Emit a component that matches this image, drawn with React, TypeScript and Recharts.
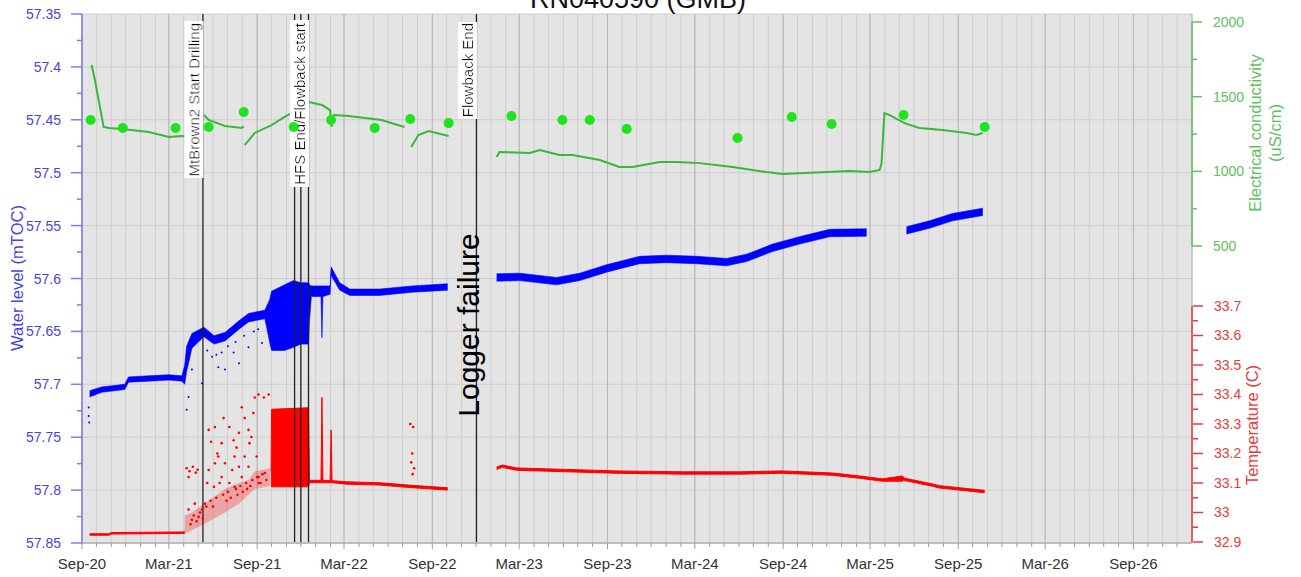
import React from 'react';
import {
  ComposedChart,
  XAxis,
  YAxis,
  CartesianGrid,
  Area,
  Line,
  Scatter,
  ReferenceLine,
} from 'recharts';

// ---------- helpers ----------
const ts = (s: string) => Date.parse(s + 'T00:00:00Z');
const MON = ['Jan', 'Feb', 'Mar', 'Apr', 'May', 'Jun', 'Jul', 'Aug', 'Sep', 'Oct', 'Nov', 'Dec'];

// ---------- axes ----------
const X_START = '2020-09-01';
const X_END = '2027-01-01';
const wlTicks = [57.35, 57.375, 57.4, 57.425, 57.45, 57.475, 57.5, 57.525, 57.55, 57.575, 57.6, 57.625, 57.65, 57.675, 57.7, 57.725, 57.75, 57.775, 57.8, 57.825, 57.85];
const wlMajorTicks = [57.35, 57.4, 57.45, 57.5, 57.55, 57.6, 57.65, 57.7, 57.75, 57.8, 57.85];
const ecTicks = [500, 750, 1000, 1250, 1500, 1750, 2000];
const ecMajor = [500, 1000, 1500, 2000];
const tempTicks = [32.9, 32.95, 33, 33.05, 33.1, 33.15, 33.2, 33.25, 33.3, 33.35, 33.4, 33.45, 33.5, 33.55, 33.6, 33.65, 33.7];
const tempMajor = [32.9, 33, 33.1, 33.2, 33.3, 33.4, 33.5, 33.6, 33.7];
const EC_DOMAIN: [number, number] = [-1488.8, 2053.6];
const TEMP_DOMAIN: [number, number] = [32.8966, 34.6898];

const monthTicks: number[] = [];
for (let y = 2020, m = 8; y < 2027; ) {
  monthTicks.push(Date.UTC(y, m, 1));
  m++;
  if (m === 12) { m = 0; y++; }
}
const majorMonthTicks = monthTicks.filter((t) => {
  const m = new Date(t).getUTCMonth();
  return m === 2 || m === 8;
});

// ---------- water level (mTOC) band ----------
const wlDates = [
  '2020-09-17', '2020-10-12', '2020-11-29', '2020-12-07', '2021-01-18', '2021-03-01', '2021-03-28', '2021-04-03',
  '2021-04-07', '2021-04-18', '2021-05-13', '2021-06-03', '2021-06-26', '2021-07-25', '2021-08-14', '2021-09-17',
  '2021-09-27', '2021-10-01', '2021-10-28', '2021-11-16', '2021-12-01', '2021-12-17', '2021-12-19', '2021-12-23',
  '2022-01-12', '2022-01-14', '2022-01-16', '2022-01-31', '2022-02-02', '2022-02-20', '2022-03-13', '2022-05-14',
  '2022-07-21', '2022-10-03',
  '2022-10-04',
  '2023-01-13', '2023-03-02', '2023-05-18', '2023-07-05', '2023-08-30', '2023-11-07', '2024-01-02', '2024-03-05',
  '2024-05-06', '2024-06-17', '2024-08-10', '2024-10-05', '2024-12-07', '2025-02-22',
  '2025-03-01',
  '2025-05-16', '2025-07-03', '2025-08-20', '2025-10-22',
];
const wlLow: (number | null)[] = [
  57.706, 57.7025, 57.700, 57.693, 57.692, 57.691, 57.692, 57.682,
  57.664, 57.652, 57.646, 57.654, 57.651, 57.640, 57.633, 57.630,
  57.620, 57.612, 57.606, 57.602, 57.604, 57.604, 57.606, 57.607,
  57.607, 57.607, 57.607, 57.607, 57.589, 57.604, 57.610, 57.610,
  57.607, 57.605,
  null,
  57.5955, 57.595, 57.599, 57.595, 57.587, 57.579, 57.578, 57.579,
  57.581, 57.577, 57.5675, 57.5605, 57.5535, 57.553,
  null,
  57.551, 57.5455, 57.5385, 57.5335,
];
const wlHigh: (number | null)[] = [
  57.712, 57.7075, 57.705, 57.698, 57.697, 57.696, 57.697, 57.700,
  57.688, 57.666, 57.655, 57.662, 57.659, 57.648, 57.641, 57.638,
  57.660, 57.668, 57.668, 57.665, 57.662, 57.662, 57.640, 57.617,
  57.617, 57.656, 57.617, 57.615, 57.597, 57.611, 57.616, 57.616,
  57.613, 57.611,
  null,
  57.6025, 57.602, 57.606, 57.602, 57.594, 57.586, 57.585, 57.586,
  57.588, 57.584, 57.5745, 57.5675, 57.5605, 57.560,
  null,
  57.558, 57.5525, 57.5455, 57.5405,
];
const wlDotDates = ['2021-04-11', '2021-04-18', '2021-05-30', '2021-06-12', '2021-06-26', '2021-07-14', '2021-07-25', '2021-08-14', '2021-09-11', '2021-05-09', '2021-04-11', '2021-04-07', '2021-06-19', '2020-09-15', '2020-09-15', '2020-09-16', '2021-05-20', '2021-06-08', '2021-07-02', '2021-07-18', '2021-08-05', '2021-08-25', '2021-09-03'];
const wlDotValues = [57.677, 57.686, 57.674, 57.684, 57.686, 57.670, 57.680, 57.665, 57.661, 57.699, 57.712, 57.724, 57.670, 57.722, 57.730, 57.736, 57.668, 57.672, 57.664, 57.660, 57.654, 57.650, 57.648];

// ---------- temperature (C) ----------
const tempDates = [
  '2020-09-17', '2020-10-27', '2020-11-01', '2021-03-28', '2021-04-03',
  '2021-04-04',
  '2021-09-30', '2021-10-01', '2021-12-17', '2021-12-19', '2022-01-12', '2022-01-14', '2022-01-16', '2022-01-31',
  '2022-02-02', '2022-02-04', '2022-03-07', '2022-05-14', '2022-07-21', '2022-10-03',
  '2022-10-04',
  '2023-01-13', '2023-01-25', '2023-02-24', '2023-09-20', '2024-02-05', '2024-06-02', '2024-08-31', '2024-12-13',
  '2025-02-07', '2025-03-27', '2025-05-08', '2025-05-10', '2025-07-09', '2025-07-24', '2025-10-26',
];
const tempLow: (number | null)[] = [
  32.923, 32.923, 32.927, 32.929, 32.929,
  null,
  33.09, 33.087, 33.087, 33.101, 33.101, 33.101, 33.101, 33.101,
  33.101, 33.101, 33.096, 33.093, 33.084, 33.076,
  null,
  33.146, 33.153, 33.143, 33.133, 33.130, 33.130, 33.133, 33.126,
  33.116, 33.106, 33.106, 33.109, 33.089, 33.083, 33.067,
];
const tempHigh: (number | null)[] = [
  32.928, 32.928, 32.932, 32.934, 32.935,
  null,
  33.14, 33.35, 33.355, 33.109, 33.109, 33.39, 33.109, 33.108,
  33.28, 33.108, 33.104, 33.101, 33.092, 33.084,
  null,
  33.154, 33.161, 33.151, 33.141, 33.138, 33.138, 33.141, 33.134,
  33.124, 33.114, 33.124, 33.117, 33.097, 33.091, 33.075,
];
const tempScatDates = ['2021-04-03', '2021-04-18', '2021-05-13', '2021-06-26', '2021-07-25', '2021-08-14', '2021-08-27', '2021-09-29'];
const tempScatLow = [32.93, 32.94, 32.96, 33.0, 33.03, 33.06, 33.08, 33.09];
const tempScatHigh = [32.99, 33.0, 33.03, 33.08, 33.10, 33.11, 33.14, 33.15];
const tempDotDates = [
  '2021-04-07', '2021-04-13', '2021-04-20', '2021-04-26', '2021-04-30', '2021-04-11',
  '2021-05-23', '2021-06-05', '2021-06-19', '2021-07-05', '2021-07-16', '2021-07-31', '2021-08-06', '2021-08-14',
  '2021-08-20', '2021-08-24', '2021-08-27', '2021-09-04', '2021-09-15', '2021-09-25',
  '2021-05-23', '2021-06-05', '2021-06-19', '2021-06-26', '2021-07-11', '2021-07-25', '2021-08-06', '2021-08-14',
  '2021-04-24', '2021-05-09', '2021-06-03', '2021-06-15', '2021-07-05', '2021-07-16', '2021-07-31', '2021-09-04',
  '2021-09-17', '2021-09-04', '2021-04-11', '2021-04-18', '2021-05-02', '2021-05-15', '2021-06-12', '2021-07-14',
  '2021-07-25', '2021-08-16', '2021-08-31',
  '2021-04-15', '2021-04-22', '2021-04-28', '2021-05-05', '2021-05-11', '2021-05-18', '2021-05-27', '2021-06-01',
  '2021-06-08', '2021-06-22', '2021-06-29', '2021-07-02', '2021-07-08', '2021-07-19', '2021-07-22', '2021-07-28',
  '2021-08-02', '2021-08-09', '2021-08-11', '2021-08-18', '2021-08-22', '2021-09-01', '2021-09-08', '2021-09-12',
  '2021-09-20', '2021-05-20', '2021-06-10', '2021-07-20', '2021-05-28', '2021-06-23',
  '2022-07-17', '2022-07-23', '2022-07-21', '2022-07-19', '2022-07-25', '2022-07-22',
];
const tempDotValues = [
  33.15, 33.14, 33.155, 33.135, 33.145, 33.12,
  33.28, 33.29, 33.235, 33.29, 33.19, 33.357, 33.32, 33.28,
  33.256, 33.337, 33.39, 33.40, 33.39, 33.40,
  33.144, 33.167, 33.12, 33.167, 33.144, 33.155, 33.19, 33.155,
  33.03, 33.01, 33.087, 33.10, 33.10, 33.087, 33.12, 33.10,
  33.134, 33.12, 33.01, 32.975, 32.985, 33.03, 33.19, 33.245,
  33.27, 33.235, 33.19,
  32.96, 32.99, 32.97, 33.0, 32.98, 33.02, 33.04, 33.02,
  33.05, 33.06, 33.04, 33.07, 33.05, 33.08, 33.06, 33.09,
  33.07, 33.1, 33.08, 33.09, 33.11, 33.12, 33.1, 33.13,
  33.11, 33.1, 33.2, 33.22, 33.24, 33.32,
  33.30, 33.29, 33.2, 33.17, 33.15, 33.13,
];

// ---------- electrical conductivity (uS/cm) ----------
const ecDates = [
  '2020-09-21', '2020-09-28', '2020-10-16', '2020-10-27', '2020-11-23', '2021-01-18', '2021-03-01', '2021-03-28', '2021-04-03', '2021-04-04',
  '2021-05-13', '2021-05-23', '2021-06-26', '2021-07-31', '2021-08-04', '2021-08-05',
  '2021-08-06', '2021-08-27', '2021-10-01', '2021-10-28', '2021-11-12', '2021-11-16', '2021-11-17',
  '2021-12-17', '2022-01-14', '2022-01-31', '2022-02-03', '2022-02-08', '2022-03-11', '2022-05-18', '2022-07-05', '2022-07-06',
  '2022-07-19', '2022-08-03', '2022-08-24', '2022-10-05', '2022-10-06',
  '2023-01-13', '2023-01-19', '2023-03-23', '2023-04-13', '2023-05-24', '2023-06-20', '2023-08-16', '2023-09-26',
  '2023-10-23', '2023-12-19', '2024-01-23', '2024-03-11', '2024-05-19', '2024-07-28', '2024-08-31', '2024-10-05',
  '2025-01-18', '2025-02-28', '2025-03-21', '2025-03-25', '2025-03-31', '2025-04-11', '2025-05-12', '2025-06-12',
  '2025-07-30', '2025-09-18', '2025-10-09', '2025-10-22',
];
const ecValues: (number | null)[] = [
  1712, 1612, 1297, 1290, 1283, 1263, 1230, 1237, 1235, null,
  1377, 1344, 1304, 1290, 1300, null,
  1176, 1257, 1310, 1364, 1390, 1395, null,
  1464, 1444, 1410, 1300, 1377, 1370, 1344, 1297, null,
  1163, 1243, 1270, 1237, null,
  1096, 1130, 1123, 1143, 1110, 1110, 1076, 1029,
  1029, 1062, 1062, 1055, 1029, 995, 982, 988,
  1002, 995, 1009, 1050, 1390, 1377, 1323, 1290,
  1277, 1257, 1243, 1257,
];
const ecSampleDates = ['2020-09-19', '2020-11-25', '2021-03-15', '2021-05-23', '2021-08-04', '2021-11-16', '2022-02-02', '2022-05-04', '2022-07-17', '2022-10-05', '2023-02-13', '2023-05-30', '2023-07-26', '2023-10-11', '2024-05-29', '2024-09-19', '2024-12-11', '2025-05-10', '2025-10-26'];
const ecSampleValues = [1344, 1290, 1290, 1297, 1397, 1297, 1344, 1290, 1350, 1323, 1370, 1344, 1344, 1283, 1223, 1364, 1317, 1377, 1297];

// ---------- events ----------
const eventDates = ['2021-05-11', '2021-11-18', '2021-12-01', '2021-12-17', '2022-12-02'];
const eventLabels = ['MtBrown2 Start Drilling', '', '', 'HFS End/Flowback start', 'Flowback End'];
const gapLabel = 'Logger failure';

// ---------- built series ----------
const wlData = wlDates.map((d, i) => ({ t: ts(d), r: wlLow[i] == null ? null : [wlLow[i], wlHigh[i]] }));
const wlDots = wlDotDates.map((d, i) => ({ t: ts(d), v: wlDotValues[i] }));
const tempData = tempDates.map((d, i) => ({ t: ts(d), r: tempLow[i] == null ? null : [tempLow[i], tempHigh[i]] }));
const tempScat = tempScatDates.map((d, i) => ({ t: ts(d), r: [tempScatLow[i], tempScatHigh[i]] }));
const tempDots = tempDotDates.map((d, i) => ({ t: ts(d), v: tempDotValues[i] }));
const ecData = ecDates.map((d, i) => ({ t: ts(d), v: ecValues[i] }));
const ecSamples = ecSampleDates.map((d, i) => ({ t: ts(d), v: ecSampleValues[i] }));

// ---------- colours ----------
const BLUE = '#0000ff';
const BLUE_AX = '#4646dc';
const GREEN_LINE = '#3ab63a';
const GREEN_DOT = '#1ee41e';
const GREEN_AX = '#62c062';
const RED = '#ff0000';
const RED_AX = '#e63c3c';

const W = 1301;
const H = 577;
const FONT = '"Liberation Sans", Arial, sans-serif';

function XTick(p: any) {
  const { x, y, payload } = p;
  const d = new Date(payload.value);
  const m = d.getUTCMonth();
  const major = m === 2 || m === 8;
  return (
    <g>
      <line x1={x} x2={x} y1={y} y2={y + (major ? 6 : 4)} stroke="#9a9a9a" />
      {major && (
        <text x={x} y={y + 26} textAnchor="middle" fontSize={15} fill="#333" fontFamily={FONT}>
          {`${MON[m]}-${String(d.getUTCFullYear()).slice(2)}`}
        </text>
      )}
    </g>
  );
}

function WlTick(p: any) {
  const { x, y, payload } = p;
  const v = payload.value as number;
  const major = wlMajorTicks.some((t) => Math.abs(t - v) < 1e-6);
  return (
    <g>
      <line x1={x - (major ? 11 : 5)} x2={x} y1={y} y2={y} stroke="#7c7cf4" strokeWidth={1.5} />
      {major && (
        <text x={x - 21} y={y} dy={5} textAnchor="end" fontSize={14} fill={BLUE_AX} fontFamily={FONT}>
          {String(v)}
        </text>
      )}
    </g>
  );
}

function makeRightTick(majors: number[], color: string) {
  return (p: any) => {
    const { x, y, payload } = p;
    const v = payload.value as number;
    const major = majors.some((t) => Math.abs(t - v) < 1e-6);
    return (
      <g>
        <line x1={x} x2={x + (major ? 10 : 5)} y1={y} y2={y} stroke={color} strokeWidth={1.5} />
        {major && (
          <text x={x + 21} y={y} dy={5} textAnchor="start" fontSize={14} fill={color} fontFamily={FONT}>
            {String(v)}
          </text>
        )}
      </g>
    );
  };
}
const EcTick = makeRightTick(ecMajor, GREEN_AX);
const TempTick = makeRightTick(tempMajor, RED_AX);

function eventLabel(text: string, withGap: boolean) {
  return (p: any) => {
    const vb = p.viewBox || {};
    const x = vb.x ?? 0;
    const y = vb.y ?? 0;
    return (
      <g>
        {text && (
          <text
            transform={`translate(${x - 3.5},${y + 9}) rotate(-90)`}
            textAnchor="end"
            fontSize={15}
            fill="#111"
            fontFamily={FONT}
            filter="url(#whitebg)"
          >
            {text}
          </text>
        )}
        {withGap && (
          <text
            transform={`translate(${x + 3},${y + 311}) rotate(-90)`}
            textAnchor="middle"
            fontSize={30}
            fill="#000"
            fontFamily={FONT}
          >
            {gapLabel}
          </text>
        )}
      </g>
    );
  };
}

const dotShape = (r: number, fill: string) => (p: any) =>
  p.cx == null ? <g /> : <circle cx={p.cx} cy={p.cy} r={r} fill={fill} />;

export default function App() {
  const xMin = ts(X_START);
  const xMax = ts(X_END);
  return (
    <div style={{ position: 'absolute', left: 0, top: 0, width: W, height: H, background: '#fff', fontFamily: FONT }}>
      <svg width={0} height={0} style={{ position: 'absolute' }}>
        <defs>
          <filter id="whitebg" x="-0.01" y="-0.02" width="1.02" height="1.04">
            <feFlood floodColor="#ffffff" />
            <feComposite in="SourceGraphic" operator="over" />
          </filter>
        </defs>
      </svg>
      <ComposedChart width={W} height={H} margin={{ top: 14, right: 0, bottom: 0, left: 0 }}>
        <CartesianGrid fill="#e4e4e4" stroke="#cecece" yAxisId="wlGrid" />
        <CartesianGrid fill="none" stroke="#b6b6b6" xAxisId="major" yAxisId="wlGrid" horizontal={false} />
        <XAxis
          type="number"
          dataKey="t"
          domain={[xMin, xMax]}
          ticks={monthTicks}
          interval={0}
          tick={XTick}
          tickLine={false}
          tickSize={0}
          tickMargin={0}
          axisLine={{ stroke: '#bdbdbd', strokeWidth: 2 }}
          height={34}
          allowDataOverflow
        />
        <XAxis xAxisId="major" type="number" dataKey="t" domain={[xMin, xMax]} ticks={majorMonthTicks} interval={0} hide allowDataOverflow />
        <YAxis
          type="number"
          domain={[57.35, 57.85]}
          reversed
          ticks={wlTicks}
          interval={0}
          tick={WlTick}
          tickLine={false}
          tickSize={0}
          tickMargin={0}
          axisLine={{ stroke: '#7c7cf4', strokeWidth: 1.5 }}
          width={82}
          allowDataOverflow
        />
        <YAxis yAxisId="wlGrid" type="number" domain={[57.35, 57.85]} reversed ticks={wlMajorTicks} interval={0} hide allowDataOverflow />
        <YAxis
          yAxisId="ec"
          orientation="right"
          type="number"
          domain={EC_DOMAIN}
          ticks={ecTicks}
          interval={0}
          tick={EcTick}
          tickLine={false}
          tickSize={0}
          tickMargin={0}
          axisLine={false}
          width={1}
          allowDataOverflow
        />
        <YAxis
          yAxisId="temp"
          orientation="right"
          type="number"
          domain={TEMP_DOMAIN}
          ticks={tempTicks}
          interval={0}
          tick={TempTick}
          tickLine={false}
          tickSize={0}
          tickMargin={0}
          axisLine={false}
          width={108}
          allowDataOverflow
        />

        <ReferenceLine yAxisId="ec" segment={[{ x: xMax, y: 500 }, { x: xMax, y: 2000 }]} stroke={GREEN_AX} strokeWidth={1.5} ifOverflow="visible" />
        <ReferenceLine yAxisId="temp" segment={[{ x: xMax, y: 32.9 }, { x: xMax, y: 33.7 }]} stroke={RED_AX} strokeWidth={1.5} ifOverflow="visible" />

        <Area data={tempScat} dataKey="r" yAxisId="temp" type="linear" stroke="none" fill={RED} fillOpacity={0.28} isAnimationActive={false} dot={false} activeDot={false} />
        <Area data={tempData} dataKey="r" yAxisId="temp" type="linear" stroke={RED} strokeWidth={1} fill={RED} fillOpacity={1} connectNulls={false} isAnimationActive={false} dot={false} activeDot={false} />
        <Scatter data={tempDots} dataKey="v" yAxisId="temp" fill={RED} shape={dotShape(1.3, RED)} isAnimationActive={false} />

        <Area data={wlData} dataKey="r" type="linear" stroke={BLUE} strokeWidth={0.6} fill={BLUE} fillOpacity={1} connectNulls={false} isAnimationActive={false} dot={false} activeDot={false} />
        <Scatter data={wlDots} dataKey="v" fill={BLUE} shape={dotShape(1, BLUE)} isAnimationActive={false} />

        <Line data={ecData} dataKey="v" yAxisId="ec" type="linear" stroke={GREEN_LINE} strokeWidth={2} dot={false} activeDot={false} connectNulls={false} isAnimationActive={false} />
        <Scatter data={ecSamples} dataKey="v" yAxisId="ec" fill={GREEN_DOT} shape={dotShape(5, GREEN_DOT)} isAnimationActive={false} />

        {eventDates.map((d, i) => (
          <ReferenceLine
            key={d}
            x={ts(d)}
            stroke="#222"
            strokeWidth={1.3}
            ifOverflow="visible"
            label={eventLabel(eventLabels[i], i === eventDates.length - 1)}
          />
        ))}
      </ComposedChart>
      <svg width={W} height={H} style={{ position: 'absolute', left: 0, top: 0, pointerEvents: 'none' }}>
        <text x={638} y={8} textAnchor="middle" fontSize={27} fill="#111" fontFamily={FONT}>RN040590 (GMB)</text>
        <text transform="translate(23,278) rotate(-90)" textAnchor="middle" fontSize={16.5} fill={BLUE_AX} fontFamily={FONT}>Water level (mTOC)</text>
        <text transform="translate(1261,133) rotate(-90)" textAnchor="middle" fontSize={16.5} fill={GREEN_AX} fontFamily={FONT}>Electrical conductivity</text>
        <text transform="translate(1281,133) rotate(-90)" textAnchor="middle" fontSize={16.5} fill={GREEN_AX} fontFamily={FONT}>(uS/cm)</text>
        <text transform="translate(1258,425) rotate(-90)" textAnchor="middle" fontSize={16.5} fill={RED_AX} fontFamily={FONT}>Temperature (C)</text>
      </svg>
    </div>
  );
}
